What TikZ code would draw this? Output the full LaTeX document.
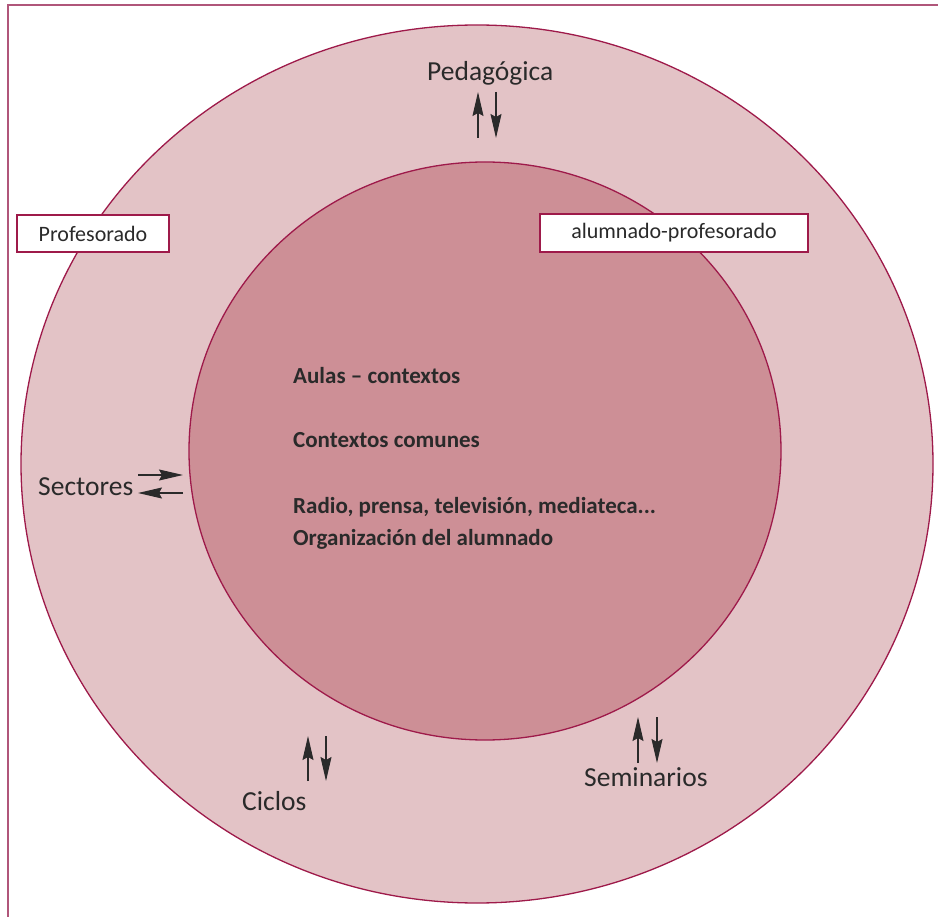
\documentclass[tikz,border=0pt]{standalone}
\usepackage{fontspec}
\setmainfont{Carlito}
\usetikzlibrary{arrows.meta}
\definecolor{frame}{HTML}{B0567A}
\definecolor{ring}{HTML}{9E1A4A}
\definecolor{outerfill}{HTML}{E3C3C6}
\definecolor{innerfill}{HTML}{CD8F96}
\definecolor{ink}{HTML}{2A2A2A}
\tikzset{
  biglabel/.style={font=\fontsize{27.5}{30}\selectfont, text=ink, inner sep=0pt, anchor=base west},
  boxlabel/.style={draw=ring, line width=1.2pt, fill=white, font=\fontsize{22}{24}\selectfont, text=ink, inner sep=0pt},
  innertext/.style={font=\bfseries\fontsize{23}{25}\selectfont, text=ink, inner sep=0pt, anchor=base west},
  flow/.style={draw=ink, line width=1.1pt, -{Stealth[length=24pt,width=11pt,inset=3pt]}}
}
\begin{document}
\begin{tikzpicture}[x=1pt,y=-1pt]
\useasboundingbox (0,0) rectangle (938,917);
% frame
\draw[frame, line width=2pt] (8,917) -- (8,5) -- (938,5);
% rings
\draw[ring, line width=1.3pt, fill=outerfill] (477,464) ellipse [x radius=456, y radius=439];
\draw[ring, line width=1.3pt, fill=innerfill] (485,451) ellipse [x radius=296, y radius=289];
% labels
\node[boxlabel, minimum width=152pt, minimum height=37pt] (prof) at (93,233.5) {Profesorado};
\node[boxlabel, minimum width=268pt, minimum height=38pt] (alum) at (674,233) {alumnado-profesorado};
\node[biglabel] (ped) at (427,81) {Pedagógica};
\node[biglabel] (sec) at (38,496) {Sectores};
\node[biglabel] (cic) at (242,810) {Ciclos};
\node[biglabel] (sem) at (584,786) {Seminarios};
\node[innertext] (t1) at (293,384) {Aulas -- contextos};
\node[innertext] (t2) at (293,448) {Contextos comunes};
\node[innertext] (t3) at (293,514) {Radio, prensa, televisión, mediateca...};
\node[innertext] (t4) at (293,545) {Organización del alumnado};
% arrow end points
\coordinate (pu1) at (478,138); \coordinate (pu2) at (478,92);
\coordinate (pd1) at (496,92);  \coordinate (pd2) at (496,138);
\coordinate (sr1) at (138,475); \coordinate (sr2) at (183,475);
\coordinate (sl1) at (183,493); \coordinate (sl2) at (138,493);
\coordinate (cu1) at (308,781); \coordinate (cu2) at (308,736);
\coordinate (cd1) at (326,736); \coordinate (cd2) at (326,781);
\coordinate (mu1) at (638,763); \coordinate (mu2) at (638,717);
\coordinate (md1) at (657,717); \coordinate (md2) at (657,763);
\draw[flow] (pu1) -- (pu2);
\draw[flow] (pd1) -- (pd2);
\draw[flow] (sr1) -- (sr2);
\draw[flow] (sl1) -- (sl2);
\draw[flow] (cu1) -- (cu2);
\draw[flow] (cd1) -- (cd2);
\draw[flow] (mu1) -- (mu2);
\draw[flow] (md1) -- (md2);
\end{tikzpicture}
\end{document}
